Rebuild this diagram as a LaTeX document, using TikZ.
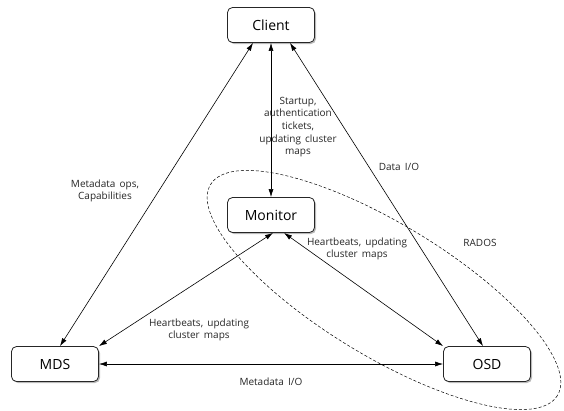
\documentclass[tikz,border=0pt]{standalone}
\usepackage{fontspec}
\setmainfont{Open Sans}[WordSpace=1.6]
\usetikzlibrary{arrows.meta,shadows}
\tikzset{
  box/.style={draw=black!85, line width=0.8pt, rounded corners=5pt, fill=white,
    minimum width=87pt, minimum height=35pt, inner sep=0pt, font=\fontsize{14}{16}\selectfont,
    drop shadow={shadow xshift=1.5pt, shadow yshift=-1.5pt, opacity=0.45, fill=black!60}},
  link/.style={line width=0.6pt, {Latex[length=8pt,width=5pt]}-{Latex[length=8pt,width=5pt]}},
  lbl/.style={font=\fontsize{10}{12.6}\selectfont, align=center, inner sep=0pt, text=black!85},
  rados/.style={dashed, line width=0.5pt, dash pattern=on 3pt off 2pt}
}
\begin{document}
\begin{tikzpicture}[x=1pt,y=-1pt]
\useasboundingbox (0,0) rectangle (564,410);
\coordinate (E) at (384,290);
\draw[rados, rotate around={-31.3:(E)}] (E) ellipse [x radius=203, y radius=66];
\node[box] (client) at (271,25) {Client};
\node[box] (monitor) at (271,215) {Monitor};
\node[box] (mds) at (55,364) {MDS};
\node[box] (osd) at (487,364) {OSD};
\draw[link] (client.south) -- (monitor.north);
\draw[link] ([xshift=-18pt]client.south) -- ([xshift=5pt]mds.north);
\draw[link] ([xshift=19pt]client.south) -- ([xshift=-4pt]osd.north);
\draw[link] ([xshift=2pt]monitor.south) -- (mds.north east);
\draw[link] ([xshift=13pt]monitor.south) -- (osd.north west);
\draw[link] (mds.east) -- (osd.west);
\node[lbl] (l1) at (298,127) {Startup,\\authentication\\tickets,\\updating cluster\\maps};
\node[lbl] (l2) at (399,167) {Data I/O};
\node[lbl] (l3) at (105,191) {Metadata ops,\\Capabilities};
\node[lbl] (l4) at (199,330) {Heartbeats, updating\\cluster maps};
\node[lbl] (l5) at (357,249) {Heartbeats, updating\\cluster maps};
\node[lbl] (l6) at (480,243) {RADOS};
\node[lbl] (l7) at (271,382) {Metadata I/O};
\end{tikzpicture}
\end{document}
